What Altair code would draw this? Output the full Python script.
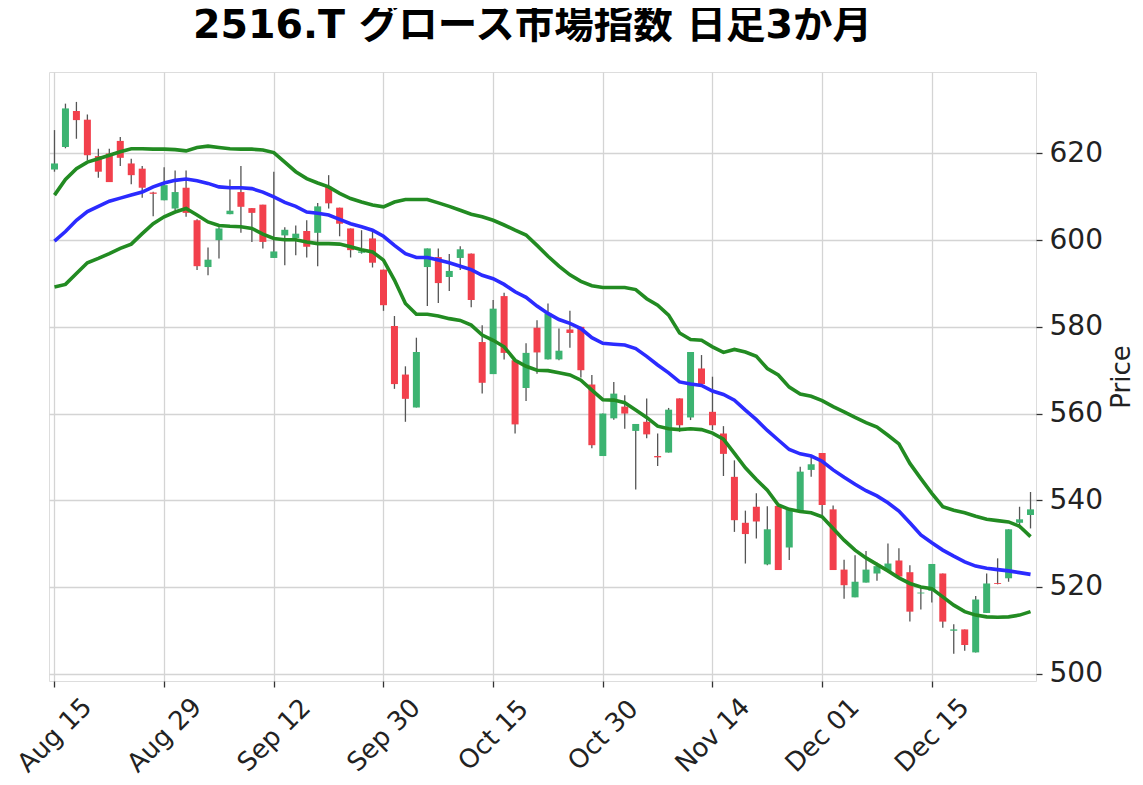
import altair as alt
import pandas as pd

# ---- data (index = trading-day position) ----
opens = [616.3, 621.5, 629.8, 627.8, 619.4, 620.0, 622.9, 617.7, 616.5, 611.0,
         609.2, 607.3, 612.1, 604.6, 593.8, 600.0, 606.0, 611.1, 607.4, 608.2,
         595.9, 601.1, 600.5, 602.1, 601.7, 612.3, 607.5, 602.7, 597.1, 600.4,
         593.2, 580.2, 569.0, 561.4, 593.8, 596.1, 591.5, 595.9, 596.9, 576.5,
         569.1, 587.1, 572.3, 565.9, 579.8, 572.5, 572.5, 579.4, 580.0, 566.7,
         550.2, 558.9, 561.6, 556.0, 558.1, 550.2, 551.0, 563.5, 559.1, 570.4,
         560.4, 555.4, 545.4, 534.8, 538.5, 525.2, 538.7, 529.1, 537.3, 547.0,
         550.9, 537.9, 524.0, 517.6, 521.0, 523.1, 523.7, 526.1, 523.4, 518.5,
         519.1, 523.1, 509.9, 510.2, 504.9, 514.0, 520.9, 522.0, 534.8, 536.6]
highs = [625.4, 631.5, 631.9, 629.0, 621.1, 621.1, 623.8, 618.8, 617.1, 611.2,
         616.8, 616.1, 616.1, 604.8, 598.3, 603.0, 614.0, 617.1, 607.4, 608.2,
         615.8, 603.0, 603.4, 604.6, 608.6, 615.0, 607.5, 602.7, 602.3, 601.9,
         593.2, 582.5, 570.9, 577.5, 598.1, 598.1, 596.8, 598.6, 596.9, 580.4,
         586.2, 587.9, 572.3, 576.2, 581.5, 585.4, 579.6, 583.7, 580.0, 568.9,
         560.0, 567.3, 564.2, 557.6, 563.5, 555.4, 561.3, 563.5, 574.2, 573.5,
         568.5, 557.1, 549.2, 537.6, 541.6, 538.6, 538.7, 537.8, 547.7, 550.0,
         550.9, 538.8, 526.3, 527.3, 528.3, 525.6, 530.0, 528.9, 525.0, 520.0,
         525.3, 523.1, 511.4, 510.2, 517.9, 523.1, 526.6, 533.3, 538.5, 541.9]
lows = [615.8, 621.2, 623.4, 618.4, 614.4, 613.4, 617.1, 612.9, 609.8, 605.5,
        609.2, 606.9, 605.4, 593.1, 591.9, 595.8, 606.0, 601.7, 599.6, 598.1,
        595.9, 594.2, 596.5, 596.0, 594.0, 607.3, 600.9, 596.0, 596.9, 593.7,
        583.7, 565.7, 558.1, 561.4, 584.8, 585.5, 588.3, 593.1, 584.5, 564.6,
        569.1, 572.5, 555.4, 562.9, 569.2, 572.5, 572.3, 575.2, 568.3, 552.0,
        550.2, 558.6, 556.5, 542.5, 554.3, 547.9, 551.0, 555.8, 558.5, 566.8,
        556.2, 545.6, 532.7, 525.4, 531.2, 525.0, 523.9, 526.2, 537.3, 545.4,
        536.6, 523.9, 517.3, 517.6, 521.0, 521.4, 523.7, 522.4, 512.0, 514.8,
        516.4, 510.6, 504.6, 505.3, 504.9, 514.0, 520.6, 521.2, 533.5, 533.5]
closes = [617.7, 630.4, 627.7, 619.6, 615.8, 613.4, 619.0, 615.0, 612.1, 610.7,
          612.7, 611.1, 606.3, 594.0, 595.5, 602.7, 606.8, 607.7, 606.3, 599.6,
          597.4, 602.4, 601.5, 598.5, 607.8, 608.5, 603.8, 597.7, 597.4, 594.8,
          585.0, 566.8, 563.4, 574.2, 598.1, 590.1, 592.9, 597.9, 586.2, 567.1,
          584.2, 574.0, 557.5, 574.0, 574.1, 583.1, 574.5, 578.6, 570.0, 552.7,
          560.0, 564.6, 560.0, 557.6, 555.2, 549.9, 560.9, 557.3, 574.2, 566.8,
          557.3, 550.7, 535.4, 532.2, 535.1, 533.3, 523.9, 537.8, 546.6, 548.3,
          538.9, 523.9, 520.4, 521.2, 524.0, 524.8, 525.4, 522.4, 514.3, 518.7,
          525.3, 512.0, 510.2, 506.6, 517.1, 520.8, 520.7, 533.3, 535.6, 537.9]

mid_line = [599.8, 602.0, 604.6, 606.6, 607.8, 609.0, 609.7, 610.4, 611.1, 612.3,
            613.2, 613.8, 614.1, 613.7, 613.1, 612.3, 612.1, 612.1, 611.9, 611.1,
            610.0, 608.7, 607.8, 606.5, 606.2, 605.8, 604.8, 603.8, 603.1, 602.3,
            600.9, 598.8, 596.9, 596.0, 596.0, 595.4, 594.8, 594.0, 593.2, 591.9,
            591.1, 589.8, 588.1, 586.8, 584.8, 583.1, 581.7, 580.8, 579.6, 577.5,
            576.2, 576.0, 575.8, 575.0, 573.2, 571.2, 569.4, 567.3, 566.8, 566.5,
            565.2, 564.4, 563.1, 560.8, 558.6, 556.1, 553.9, 551.7, 550.7, 550.2,
            549.0, 547.0, 545.3, 543.7, 542.2, 541.0, 539.4, 537.5, 534.8, 532.0,
            530.2, 528.5, 527.1, 525.8, 524.8, 524.3, 524.0, 523.7, 523.3, 522.9]
upper_line = [610.4, 614.0, 616.5, 618.0, 618.8, 619.6, 620.4, 621.1, 621.1, 621.0,
              621.0, 620.9, 620.6, 621.4, 621.7, 621.4, 621.1, 621.0, 621.0, 620.8,
              620.2, 618.0, 615.8, 614.2, 613.2, 612.3, 610.8, 609.6, 608.8, 608.1,
              607.7, 608.8, 609.4, 609.4, 609.4, 608.6, 607.8, 606.9, 606.0, 605.4,
              604.6, 603.5, 602.3, 601.2, 598.8, 596.3, 594.0, 592.0, 590.5, 589.5,
              589.1, 589.1, 589.1, 588.6, 586.5, 585.0, 582.7, 578.6, 577.1, 576.9,
              575.4, 574.1, 574.8, 574.2, 573.2, 570.4, 568.9, 566.1, 564.5, 564.0,
              563.0, 561.6, 560.4, 559.1, 557.9, 556.9, 555.0, 553.0, 548.5, 545.0,
              541.6, 538.5, 537.7, 537.1, 536.3, 535.6, 535.3, 535.0, 534.0, 531.6]
lower_line = [589.2, 589.8, 592.3, 594.8, 595.8, 596.9, 598.1, 599.1, 601.5, 603.8,
              605.4, 606.5, 607.3, 605.8, 604.2, 603.4, 603.2, 603.1, 602.7, 601.4,
              600.4, 600.1, 600.1, 599.6, 599.2, 599.2, 599.1, 598.5, 597.8, 597.3,
              595.4, 590.8, 585.4, 582.9, 582.9, 582.5, 581.9, 581.5, 580.4, 578.1,
              576.9, 575.4, 572.3, 570.9, 570.0, 569.9, 569.4, 568.9, 567.7, 565.4,
              563.2, 563.1, 562.5, 560.8, 559.1, 557.1, 556.5, 556.3, 556.5, 556.3,
              555.5, 554.1, 550.8, 547.5, 544.8, 542.3, 538.9, 537.9, 537.4, 537.1,
              536.2, 533.5, 530.8, 528.5, 526.7, 525.2, 523.7, 522.1, 520.8, 520.0,
              519.6, 517.7, 515.8, 514.3, 513.5, 513.1, 513.0, 513.1, 513.5, 514.3]

tick_positions = [0, 10, 20, 30, 40, 50, 60, 70, 80]
tick_labels = ["Aug 15", "Aug 29", "Sep 12", "Sep 30", "Oct 15",
               "Oct 30", "Nov 14", "Dec 01", "Dec 15"]
price_ticks = [500, 520, 540, 560, 580, 600, 620]

title_text = "2516.T グロース市場指数 日足3か月"

# ---- table ----
df = pd.DataFrame({
    "idx": list(range(len(opens))),
    "open": opens, "high": highs, "low": lows, "close": closes,
    "mid": mid_line, "upper": upper_line, "lower": lower_line,
})

label_js = "[" + ",".join("'" + s + "'" for s in tick_labels) + "]"
label_expr = label_js + "[round(datum.value / 10)]"

AXIS_FONT = "DejaVu Sans"
TXT = "#222222"
GRID = "#d4d4d4"

x_enc = alt.X(
    "idx:Q",
    scale=alt.Scale(domain=[-0.5, 89.5], nice=False, zero=False, padding=0),
    axis=alt.Axis(
        values=tick_positions, labelExpr=label_expr, title=None,
        labelAngle=315, labelAlign="center", labelBaseline="middle",
        labelPadding=48, labelFontSize=26, labelFont=AXIS_FONT,
        labelColor=TXT, labelOverlap=False, labelFlush=False,
        tickSize=6, tickColor="#333333", tickWidth=1.3,
        domain=False, grid=True, gridColor=GRID, gridWidth=1.3,
    ),
)


def y_enc(field):
    return alt.Y(
        field + ":Q",
        scale=alt.Scale(domain=[498.3, 638.8], nice=False, zero=False, padding=0),
        axis=alt.Axis(
            orient="right", values=price_ticks, title="Price",
            labelFontSize=28, labelFont=AXIS_FONT, labelColor=TXT,
            labelPadding=7, labelBaseline="middle",
            tickSize=6, tickColor="#333333", tickWidth=1.3,
            domain=False, grid=True, gridColor=GRID, gridWidth=1.3,
            titleFontSize=26, titleFont=AXIS_FONT, titleFontWeight="normal",
            titleColor=TXT, titleAngle=270, titleAlign="center",
            titleBaseline="alphabetic", titleX=93, titleY=304.5,
        ),
    )


base = alt.Chart(df)

up_cond = "datum.close >= datum.open"

wicks = base.mark_rule(color="#555555", strokeWidth=1.3).encode(
    x=x_enc, y=y_enc("low"), y2="high:Q"
)

bodies = base.mark_bar(size=7).encode(
    x=x_enc,
    y=y_enc("open"),
    y2="close:Q",
    color=alt.condition(up_cond, alt.value("#3cb371"), alt.value("#f2404c")),
)

upper = base.mark_line(color="#228b22", strokeWidth=3.6).encode(x=x_enc, y=y_enc("upper"))
lower = base.mark_line(color="#228b22", strokeWidth=3.6).encode(x=x_enc, y=y_enc("lower"))
mid = base.mark_line(color="#2b2bff", strokeWidth=3.6).encode(x=x_enc, y=y_enc("mid"))

chart = alt.layer(wicks, bodies, upper, lower, mid).properties(
    width=987,
    height=609,
    autosize=alt.AutoSizeParams(type="none"),
    padding={"left": 41, "top": 64, "right": 99, "bottom": 100},
    title=alt.TitleParams(
        title_text, fontSize=39.5, font="DejaVu Sans, Noto Sans CJK JP",
        fontWeight="bold", color="black", anchor="middle", frame="group",
        offset=25.5, dx=-10,
    ),
).configure_view(fill="#fdeff6", strokeWidth=0).configure(background="white")

chart.save("out.html", embed_options={"renderer": "svg", "actions": False})
